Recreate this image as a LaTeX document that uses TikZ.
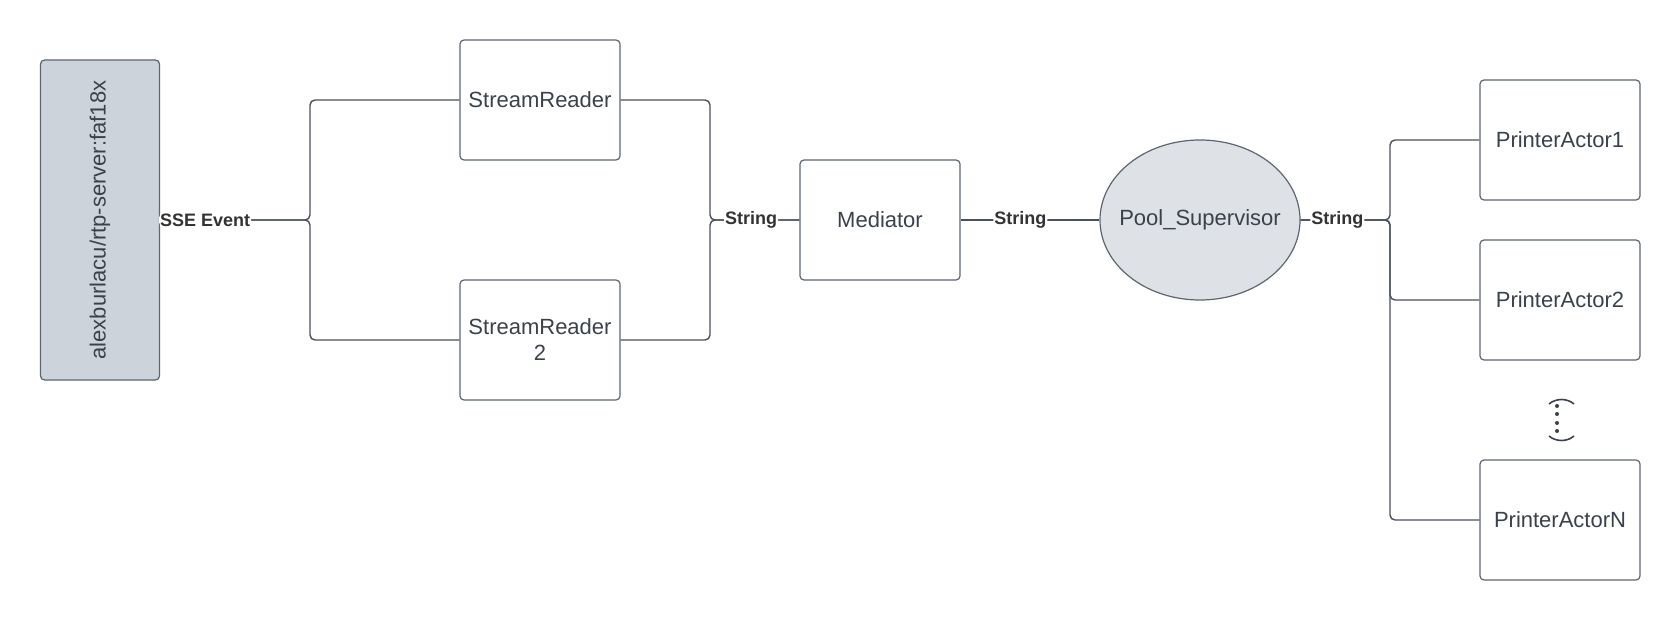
\documentclass[tikz,border=0pt]{standalone}
\usepackage{fontspec}
\setmainfont{Liberation Sans}
\usepackage{tikz}
\usetikzlibrary{shapes, positioning, shapes.geometric}
\definecolor{edgegray}{HTML}{5E6570}
\definecolor{textgray}{HTML}{3A414A}
\definecolor{srcfill}{HTML}{CDD3DA}
\definecolor{poolfill}{HTML}{DEE2E7}
\tikzset{
  actorbox/.style={draw=edgegray, line width=0.6pt, rounded corners=2pt,
    minimum width=80pt, minimum height=60pt, text=textgray, align=center,
    font=\fontsize{11}{13}\selectfont, inner sep=2pt},
  srcbox/.style={actorbox, fill=srcfill, minimum width=59.5pt, minimum height=160pt},
  poolnode/.style={ellipse, draw=edgegray, fill=poolfill, line width=0.6pt,
    minimum width=100pt, minimum height=80pt, text=textgray,
    font=\fontsize{11}{13}\selectfont, inner xsep=-6pt, inner ysep=0pt},
  conn/.style={draw=edgegray!80!black, line width=0.7pt, rounded corners=2.5pt},
  msg/.style={fill=white, text=black!80, font=\bfseries\fontsize{9}{10}\selectfont, inner sep=0.5pt}
}

\begin{document}
\begin{tikzpicture}[x=0.5pt, y=-0.5pt]
    \useasboundingbox (0,0) rectangle (1680,620);
    \node[srcbox] (src) at (100,220) {\rotatebox{90}{alexburlacu/rtp-server:faf18x}};
    \node[actorbox] (sr1) at (540,100) {StreamReader};
    \node[actorbox] (sr2) at (540,340) {StreamReader\\2};
    \node[actorbox] (med) at (880,220) {Mediator};
    \node[poolnode] (pool) at (1200,220) {Pool\_Supervisor};
    \node[actorbox] (pa1) at (1560,140) {PrinterActor1};
    \node[actorbox] (pa2) at (1560,300) {PrinterActor2};
    \node[actorbox] (paN) at (1560,520) {PrinterActorN};

    \coordinate (fork) at (310,220);
    \coordinate (join) at (710,220);
    \coordinate (fan) at (1390,220);

    % plain branches first, so the labelled ones stay on top
    \draw[conn] (src.east) -- (fork) |- (sr2.west);
    \draw[conn] (sr2.east) -| (join) -- (med.west);
    \draw[conn] (pool.east) -- (fan) |- (pa2.west);
    \draw[conn] (pool.east) -- (fan) |- (paN.west);
    \draw[conn] (src.east) -- node[msg, pos=0.3] {SSE Event} (fork) |- (sr1.west);
    \draw[conn] (sr1.east) -| (join) -- node[msg, pos=0.46] {String} (med.west);
    \draw[conn] (med.east) -- node[msg, pos=0.43] {String} (pool.west);
    \draw[conn] (pool.east) -- node[msg, pos=0.41] {String} (fan) |- (pa1.west);

    % vertical ellipsis between PrinterActor2 and PrinterActorN
    \draw[textgray, line width=0.8pt] (1549,404) .. controls (1556,398) and (1567,398) .. (1574,404);
    \draw[textgray, line width=0.8pt] (1549,436) .. controls (1556,442) and (1567,442) .. (1574,436);
    \foreach \y in {406,414,423,431}
        \fill[textgray] (1557,\y) circle (1pt);
\end{tikzpicture}
\end{document}
